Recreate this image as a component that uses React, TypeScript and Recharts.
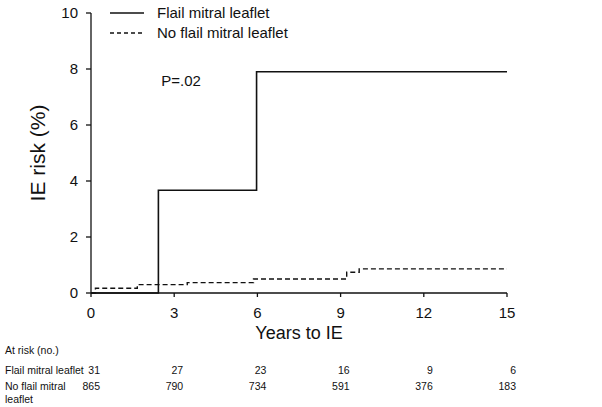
import { LineChart, Line, XAxis, YAxis, Legend, ReferenceDot } from 'recharts';

// Kaplan-Meier style cumulative IE risk
const flailYears = [0, 2.43, 5.97, 15];
const flailRisk = [0, 3.67, 7.9, 7.9];
const noFlailYears = [0, 0.16, 1.67, 3.47, 5.86, 9.22, 9.67, 15];
const noFlailRisk = [0, 0.17, 0.3, 0.37, 0.5, 0.74, 0.86, 0.86];

const seriesNames = ['Flail mitral leaflet', 'No flail mitral leaflet'];

const xTicks = [0, 3, 6, 9, 12, 15];
const yTicks = [0, 2, 4, 6, 8, 10];

// numbers at risk under each x tick
const flailAtRisk = [31, 27, 23, 16, 9, 6];
const noFlailAtRisk = [865, 790, 734, 591, 376, 183];

const pValue = 'P=.02';
const pLabelAt = { x: 2.5, y: 7.6 };

const FONT = '"Liberation Sans", Arial, sans-serif';
const INK = '#111';

const flailData = flailYears.map((t, i) => ({ t, risk: flailRisk[i] }));
const noFlailData = noFlailYears.map((t, i) => ({ t, risk: noFlailRisk[i] }));

const XTick = (props: any) => {
  const { x, y, payload } = props;
  const i = xTicks.indexOf(payload.value);
  return (
    <g fontFamily={FONT} fill={INK}>
      <text x={x} y={y} dy="0.71em" textAnchor="middle" fontSize={15} fill={INK}>
        {payload.value}
      </text>
      <text x={x + 9} y={y + 67} textAnchor="end" fontSize={10.5} fill={INK}>
        {flailAtRisk[i]}
      </text>
      <text x={x + 9} y={y + 83} textAnchor="end" fontSize={10.5} fill={INK}>
        {noFlailAtRisk[i]}
      </text>
      {i === 0 && (
        <g fontSize={10.5} fill={INK}>
          <text x={5} y={y + 47}>At risk (no.)</text>
          <text x={5} y={y + 67}>Flail mitral leaflet</text>
          <text x={5} y={y + 83}>No flail mitral</text>
          <text x={5} y={y + 96}>leaflet</text>
        </g>
      )}
    </g>
  );
};

const renderLegend = () => (
  <div style={{ fontFamily: FONT, fontSize: 15, color: INK, lineHeight: '20px' }}>
    {seriesNames.map((name, i) => (
      <div key={name} style={{ display: 'flex', alignItems: 'center', height: 20 }}>
        <svg width={36} height={4} style={{ marginRight: 12 }}>
          <line
            x1={1}
            x2={35}
            y1={2}
            y2={2}
            stroke={INK}
            strokeWidth={1.5}
            strokeDasharray={i === 1 ? '4 3' : undefined}
          />
        </svg>
        <span>{name}</span>
      </div>
    ))}
  </div>
);

export default function App() {
  return (
    <div style={{ position: 'absolute', left: 0, top: 0 }}>
      <LineChart width={602} height={407} margin={{ top: 13, right: 95, bottom: 0, left: 0 }}>
        <XAxis
          dataKey="t"
          type="number"
          domain={[0, 15]}
          ticks={xTicks}
          height={114}
          tickSize={4}
          tickMargin={10}
          axisLine={{ stroke: INK, strokeWidth: 1.3 }}
          tickLine={{ stroke: INK, strokeWidth: 1.3 }}
          tick={<XTick />}
          label={{
            value: 'Years to IE',
            position: 'insideTop',
            offset: 33,
            fontSize: 18,
            fontFamily: FONT,
            fill: INK,
          }}
        />
        <YAxis
          type="number"
          domain={[0, 10]}
          ticks={yTicks}
          width={91}
          tickSize={5}
          tickMargin={8}
          axisLine={{ stroke: INK, strokeWidth: 1.3 }}
          tickLine={{ stroke: INK, strokeWidth: 1.3 }}
          tick={{ fontSize: 15, fontFamily: FONT, fill: INK }}
          label={{
            content: ({ viewBox }: any) => {
              const cx = (viewBox?.x ?? 0) + 37;
              const cy = (viewBox?.y ?? 0) + (viewBox?.height ?? 0) / 2;
              return (
                <text
                  x={cx}
                  y={cy}
                  transform={`rotate(-90 ${cx} ${cy})`}
                  textAnchor="middle"
                  dominantBaseline="central"
                  fontSize={21}
                  fontFamily={FONT}
                  fill={INK}
                >
                  IE risk (%)
                </text>
              );
            },
          }}
        />
        <Legend
          layout="vertical"
          align="center"
          verticalAlign="middle"
          content={renderLegend}
          wrapperStyle={{ position: 'absolute', top: 3, left: 109, width: 'auto' }}
        />
        <Line
          data={noFlailData}
          dataKey="risk"
          name={seriesNames[1]}
          type="stepAfter"
          stroke={INK}
          strokeWidth={1.4}
          strokeDasharray="5 3"
          dot={false}
          isAnimationActive={false}
        />
        <Line
          data={flailData}
          dataKey="risk"
          name={seriesNames[0]}
          type="stepAfter"
          stroke={INK}
          strokeWidth={1.6}
          dot={false}
          isAnimationActive={false}
        />
        <ReferenceDot
          x={pLabelAt.x}
          y={pLabelAt.y}
          r={1}
          fill="none"
          stroke="none"
          label={{ value: pValue, position: 'right', offset: 0, fontSize: 15, fontFamily: FONT, fill: INK }}
        />
      </LineChart>
    </div>
  );
}
